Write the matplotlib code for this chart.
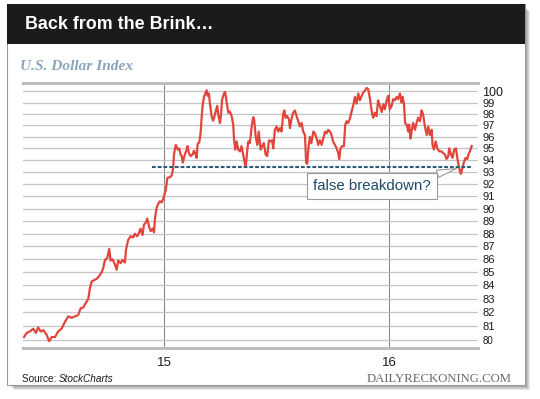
import matplotlib
matplotlib.use("Agg")
import matplotlib.pyplot as plt
from matplotlib.patches import Rectangle
from matplotlib.ticker import NullLocator

plt.rcParams["font.family"] = ["Liberation Sans", "DejaVu Sans"]

# U.S. Dollar Index (x = year, 15 = Jan 2015)
years = [
    14.378, 14.390, 14.404, 14.419, 14.431, 14.441, 14.452, 14.464, 14.479, 14.490,
    14.501, 14.516, 14.530, 14.545, 14.560, 14.575, 14.590, 14.604, 14.619, 14.630,
    14.641, 14.653, 14.664, 14.671, 14.679, 14.689, 14.701, 14.712, 14.723, 14.730,
    14.738, 14.748, 14.757, 14.763, 14.772, 14.782, 14.790, 14.797, 14.808, 14.816,
    14.827, 14.831, 14.841, 14.852, 14.864, 14.871, 14.881, 14.890, 14.896, 14.905,
    14.911, 14.920, 14.926, 14.935, 14.941, 14.950, 14.956, 14.960, 14.968, 14.975,
    14.982, 14.990, 14.997, 15.009, 15.015, 15.027, 15.034, 15.041, 15.044, 15.049,
    15.053, 15.061, 15.068, 15.074, 15.079, 15.084, 15.089, 15.095, 15.101, 15.105,
    15.111, 15.119, 15.128, 15.133, 15.141, 15.145, 15.150, 15.157, 15.163, 15.168,
    15.172, 15.178, 15.184, 15.190, 15.194, 15.200, 15.204, 15.212, 15.219, 15.225,
    15.231, 15.237, 15.241, 15.249, 15.253, 15.259, 15.267, 15.272, 15.279, 15.286,
    15.293, 15.301, 15.308, 15.312, 15.317, 15.323, 15.330, 15.338, 15.345, 15.352,
    15.360, 15.364, 15.370, 15.375, 15.382, 15.390, 15.397, 15.401, 15.408, 15.415,
    15.421, 15.430, 15.437, 15.444, 15.452, 15.459, 15.467, 15.474, 15.481, 15.486,
    15.493, 15.501, 15.508, 15.516, 15.523, 15.530, 15.535, 15.541, 15.548, 15.556,
    15.560, 15.568, 15.575, 15.582, 15.590, 15.597, 15.604, 15.612, 15.619, 15.627,
    15.632, 15.637, 15.643, 15.649, 15.655, 15.664, 15.671, 15.679, 15.686, 15.693,
    15.701, 15.708, 15.716, 15.723, 15.730, 15.738, 15.745, 15.752, 15.760, 15.768,
    15.775, 15.779, 15.785, 15.792, 15.800, 15.806, 15.812, 15.819, 15.827, 15.834,
    15.841, 15.849, 15.856, 15.864, 15.871, 15.879, 15.886, 15.893, 15.901, 15.908,
    15.916, 15.923, 15.930, 15.938, 15.945, 15.952, 15.960, 15.968, 15.975, 15.982,
    15.990, 15.997, 16.004, 16.012, 16.019, 16.027, 16.034, 16.041, 16.049, 16.056,
    16.061, 16.067, 16.072, 16.079, 16.086, 16.090, 16.096, 16.102, 16.108, 16.116,
    16.123, 16.130, 16.138, 16.145, 16.152, 16.160, 16.168, 16.175, 16.182, 16.190,
    16.194, 16.200, 16.208, 16.215, 16.224, 16.234, 16.241, 16.249, 16.256, 16.264,
    16.268, 16.276, 16.283, 16.290, 16.298, 16.304, 16.310, 16.316, 16.320, 16.326,
    16.333, 16.341, 16.348, 16.354, 16.360, 16.368,
]
usd = [
    80.2, 80.5, 80.6, 80.8, 80.5, 80.9, 80.6, 80.7, 80.35, 79.9,
    80.2, 80.2, 80.6, 80.8, 81.3, 81.7, 81.6, 81.7, 81.8, 82.3,
    82.35, 82.7, 83.0, 83.8, 84.3, 84.4, 84.5, 84.7, 85.0, 85.3,
    85.95, 86.1, 86.8, 85.9, 86.0, 85.6, 85.2, 85.9, 85.7, 85.95,
    85.75, 86.7, 87.5, 87.8, 87.7, 88.0, 87.8, 88.1, 88.4, 87.9,
    88.7, 88.9, 89.2, 88.5, 88.2, 88.4, 88.1, 89.2, 90.1, 90.4,
    90.6, 90.5, 90.8, 91.6, 92.5, 92.6, 92.7, 93.3, 94.35, 95.0,
    95.3, 94.9, 95.0, 94.5, 94.35, 93.8, 94.2, 94.6, 94.9, 95.2,
    94.6, 94.35, 94.5, 94.8, 94.5, 94.2, 95.4, 95.5, 96.3, 97.8,
    98.7, 99.5, 99.8, 100.1, 99.6, 99.8, 99.0, 97.8, 97.4, 97.8,
    98.3, 98.7, 98.0, 97.2, 97.8, 99.3, 99.8, 99.95, 99.0, 98.1,
    98.2, 97.8, 97.05, 95.7, 94.9, 95.6, 94.9, 94.75, 95.2, 94.5,
    93.7, 93.5, 94.75, 95.6, 95.45, 96.9, 97.7, 97.5, 96.0, 95.3,
    96.45, 94.9, 95.2, 95.45, 94.5, 94.35, 95.7, 95.6, 95.7, 95.0,
    96.6, 96.9, 96.45, 96.75, 96.45, 97.95, 98.3, 97.65, 97.8, 97.5,
    96.75, 97.65, 98.1, 98.3, 97.8, 97.35, 96.9, 97.2, 96.45, 96.15,
    93.8, 93.7, 95.2, 96.0, 95.45, 96.45, 96.3, 95.85, 95.3, 95.7,
    95.3, 95.85, 96.45, 96.3, 96.6, 96.45, 96.15, 95.6, 95.3, 95.0,
    94.6, 94.1, 95.0, 95.2, 95.2, 97.05, 97.35, 97.2, 97.6, 98.2,
    98.7, 99.5, 98.9, 99.8, 99.2, 99.6, 99.9, 100.05, 100.3, 100.2,
    99.3, 98.3, 97.65, 98.1, 97.8, 99.2, 98.7, 98.15, 98.85, 98.4,
    99.2, 99.6, 98.4, 98.7, 99.3, 99.2, 99.5, 99.3, 99.8, 99.0,
    99.5, 98.85, 97.2, 97.05, 96.45, 97.05, 95.85, 96.6, 97.2, 96.6,
    97.2, 97.65, 97.35, 98.3, 97.95, 96.9, 96.15, 96.9, 96.15, 96.6,
    95.3, 94.9, 95.6, 95.0, 94.75, 94.75, 94.6, 94.5, 94.1, 94.35,
    95.0, 94.5, 94.2, 94.9, 95.0, 94.2, 93.55, 93.05, 92.85, 93.3,
    93.8, 94.2, 94.1, 94.5, 94.75, 95.2,
]

y_ticks = list(range(80, 101))
x_ticks = [15, 16]
x_labels = ["15", "16"]

support_level = 93.4
support_start, support_end = 14.945, 16.368
note_text = "false breakdown?"
note_pos = (15.924, 91.85)
note_target = (16.30, 93.3)

W, H = 540, 399


def fx(x):
    return x / W


def fy(y):
    return 1 - y / H


def px_rect(fig, x0, y0, x1, y1, **kw):
    r = Rectangle((fx(x0), fy(y1)), (x1 - x0) / W, (y1 - y0) / H,
                  transform=fig.transFigure, **kw)
    fig.patches.append(r)
    return r


fig = plt.figure(figsize=(5.4, 3.99), dpi=100)
fig.patch.set_facecolor("white")

# drop shadow, card, title bar
for i in range(1, 6):
    px_rect(fig, 9 + i, 6 + i, 525 + i, 385 + i, facecolor="black",
            edgecolor="none", alpha=0.09, zorder=0)
px_rect(fig, 7, 4, 525, 385, facecolor="white", edgecolor="#9a9a9a",
        linewidth=0.8, zorder=1)
px_rect(fig, 7, 4, 525, 44, facecolor="#1c1a1b", edgecolor="none", zorder=2)

fig.text(fx(25), fy(24.5), "Back from the Brink\u2026", color="white",
         fontsize=12.9, fontweight="bold", va="center", ha="left", zorder=3)
fig.text(fx(20), fy(66), "U.S. Dollar Index", color="#8aa5bb",
         fontsize=11.1, fontweight="bold", style="italic",
         family="Liberation Serif", va="center", ha="left", zorder=3)

ax = fig.add_axes([fx(23.3), fy(347.5), (478 - 23.3) / W, (347.5 - 83) / H])
ax.set_zorder(3)
ax.patch.set_alpha(0)

ax.plot(years, usd, color="#e2453c", lw=1.6, zorder=3)
ax.hlines(support_level, support_start, support_end, colors="#2b5b78",
          linestyles=(0, (1.8, 0.95)), lw=1.5, zorder=4)

ax.set_yscale("log")
ax.set_ylim(79.45, 100.75)
ax.set_xlim(14.375, 16.396)
ax.yaxis.set_minor_locator(NullLocator())
ax.set_yticks(y_ticks, [str(v) for v in y_ticks])
ax.set_xticks(x_ticks, x_labels)
ax.yaxis.tick_right()
ax.tick_params(axis="y", length=0, pad=3, labelsize=8, colors="#1a1a1a")
ax.tick_params(axis="x", length=0, pad=6.5, labelsize=9.5, colors="#1a1a1a")
for lab in ax.get_yticklabels():
    if lab.get_text() == "100":
        lab.set_fontsize(9)
    elif lab.get_text() == "80":
        lab.set_fontsize(7)

ax.grid(axis="y", color="#c4c4c4", lw=0.9, zorder=1)
for xv in x_ticks:
    ax.axvline(xv, color="#8a8a8a", lw=0.8, zorder=1)
for side in ["left", "right"]:
    ax.spines[side].set_visible(False)
for side in ["top", "bottom"]:
    ax.spines[side].set_color("#bdbdbd")
    ax.spines[side].set_linewidth(2.2)

ax.annotate(note_text, xy=note_target, xytext=note_pos, ha="center",
            va="center", fontsize=10.8, color="#1d4a6b", zorder=6,
            bbox=dict(boxstyle="square,pad=0.42", fc="white", ec="#9a9a9a",
                      lw=0.8),
            arrowprops=dict(arrowstyle="wedge,tail_width=0.5,shrink_factor=0.5",
                            fc="white", ec="#9a9a9a", lw=0.8,
                            relpos=(0.9, 1.0), shrinkA=0, shrinkB=0))

fig.text(fx(21.5), fy(379), "Source: ", fontsize=7.2, va="center", ha="left",
         color="#1a1a1a", zorder=3)
fig.text(fx(59), fy(379), "StockCharts", fontsize=7.2, style="italic",
         va="center", ha="left", color="#1a1a1a", zorder=3)
fig.text(fx(512), fy(378.5), "DAILYRECKONING.COM", fontsize=9.2,
         family="Liberation Serif", color="#6a6a6a", va="center", ha="right",
         zorder=3)

fig.savefig("out.png", dpi=100)
